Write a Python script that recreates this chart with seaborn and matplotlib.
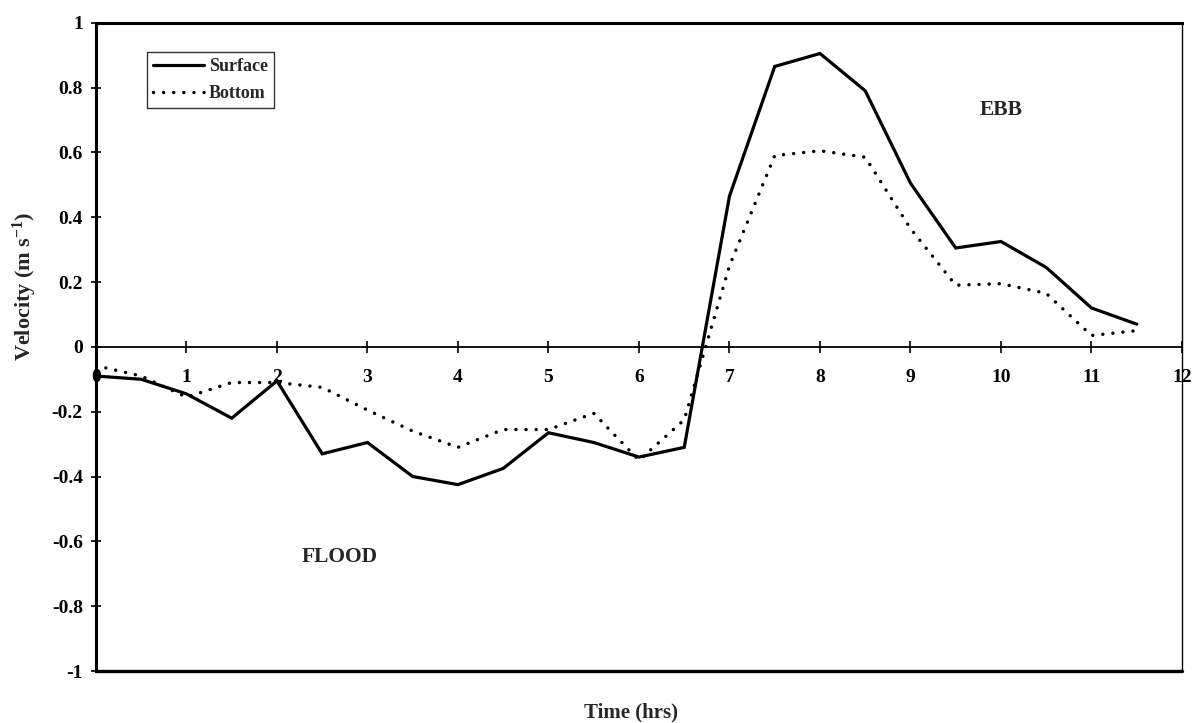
import matplotlib
matplotlib.use("Agg")
import matplotlib.pyplot as plt
import seaborn as sns
import pandas as pd

# Tidal velocity record, half-hourly
time_hrs = [0, 0.5, 1, 1.5, 2, 2.5, 3, 3.5, 4, 4.5, 5, 5.5,
            6, 6.5, 7, 7.5, 8, 8.5, 9, 9.5, 10, 10.5, 11, 11.5]
surface = [-0.09, -0.10, -0.145, -0.22, -0.105, -0.33, -0.295, -0.40,
           -0.425, -0.375, -0.265, -0.295, -0.34, -0.31, 0.465, 0.865,
           0.905, 0.79, 0.505, 0.305, 0.325, 0.245, 0.12, 0.07]
bottom = [-0.058, -0.09, -0.155, -0.11, -0.11, -0.125, -0.195, -0.26,
          -0.31, -0.255, -0.255, -0.205, -0.35, -0.225, 0.25, 0.59,
          0.605, 0.585, 0.365, 0.19, 0.195, 0.165, 0.035, 0.05]

x_ticks = list(range(0, 13))
y_ticks = [1, 0.8, 0.6, 0.4, 0.2, 0, -0.2, -0.4, -0.6, -0.8, -1]
y_tick_labels = ["1", "0.8", "0.6", "0.4", "0.2", "0", "-0.2", "-0.4",
                 "-0.6", "-0.8", "-1"]

sns.set_theme(style="white")
plt.rcParams["font.family"] = ["Liberation Serif", "DejaVu Serif"]
plt.rcParams["mathtext.fontset"] = "custom"
plt.rcParams["mathtext.rm"] = "Liberation Serif:bold"
plt.rcParams["mathtext.it"] = "Liberation Serif:bold"
plt.rcParams["mathtext.bf"] = "Liberation Serif:bold"
plt.rcParams["axes.unicode_minus"] = False

df_surface = pd.DataFrame({"Time": time_hrs, "Velocity": surface})
df_bottom = pd.DataFrame({"Time": time_hrs, "Velocity": bottom})

fig = plt.figure(figsize=(11.92, 7.23), dpi=100)
ax = fig.add_axes([0.0805, 0.0719, 0.9111, 0.8967])

sns.lineplot(data=df_surface, x="Time", y="Velocity", ax=ax, color="black",
             lw=2.3, label="Surface", solid_joinstyle="miter")
sns.lineplot(data=df_bottom, x="Time", y="Velocity", ax=ax, color="black",
             lw=2.5, label="Bottom", linestyle=(0, (0.01, 2.9)),
             dash_capstyle="round")

ax.set_xlim(0, 12)
ax.set_ylim(-1, 1)
ax.set_xticks(x_ticks)
ax.set_xticklabels([str(v) for v in x_ticks])
ax.set_yticks(y_ticks)
ax.set_yticklabels(y_tick_labels)

# frame: heavy left/top/bottom, light right; the time axis sits at zero
for side in ["left", "top"]:
    ax.spines[side].set_linewidth(2.2)
    ax.spines[side].set_color("black")
ax.spines["right"].set_linewidth(1.0)
ax.spines["right"].set_color("black")
ax.spines["bottom"].set_position(("data", 0))
ax.spines["bottom"].set_linewidth(1.3)
ax.spines["bottom"].set_color("black")
ax.axhline(-1, color="black", lw=2.4, clip_on=False, zorder=3)

ax.tick_params(axis="y", direction="inout", length=7, width=1.2,
               colors="black", pad=6, labelsize=14, left=True)
ax.tick_params(axis="x", direction="inout", length=8, width=1.2,
               colors="black", pad=12, labelsize=14, bottom=True)
for lab in ax.get_xticklabels() + ax.get_yticklabels():
    lab.set_fontweight("bold")

ax.set_xlabel("Time (hrs)", fontsize=15, fontweight="bold")
ax.xaxis.set_label_coords(0.493, -0.048)
ax.set_ylabel("Velocity (m s$^{-1}$)", fontsize=16, fontweight="bold")
ax.yaxis.set_label_coords(-0.052, 0.594)

ax.text(2.69, -0.649, "FLOOD", fontsize=15.5, fontweight="bold",
        ha="center", va="center")
ax.text(10.0, 0.732, "EBB", fontsize=15.5, fontweight="bold",
        ha="center", va="center")

leg = ax.legend(loc="upper left", bbox_to_anchor=(0.0467, 0.955),
                fontsize=13, frameon=True, fancybox=False, handlelength=2.8,
                handletextpad=0.3, borderpad=0.35, labelspacing=0.55,
                borderaxespad=0)
leg.get_frame().set_edgecolor("black")
leg.get_frame().set_linewidth(1.0)
for t in leg.get_texts():
    t.set_fontweight("bold")

fig.savefig("out.png", dpi=100, facecolor="white")
